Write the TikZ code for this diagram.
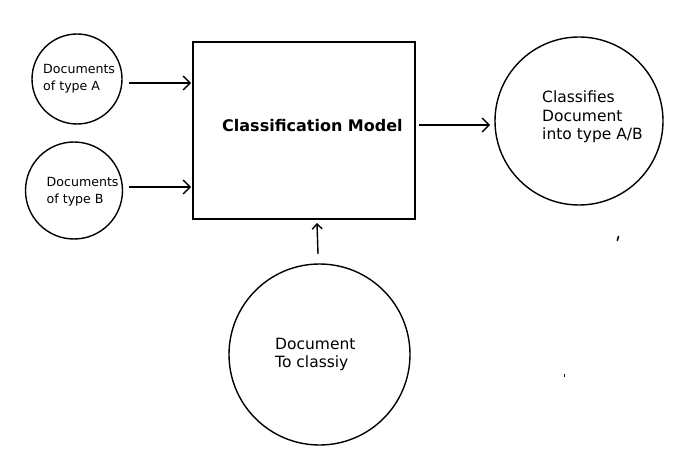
\documentclass[tikz,border=0pt]{standalone}
\usepackage{fontspec}
\setmainfont{DejaVu Sans}
\usetikzlibrary{arrows.meta}
\begin{document}
\begin{tikzpicture}[x=1pt,y=-1pt,
  shp/.style={draw=black,line width=1.4pt},
  conn/.style={line width=1.4pt,-{Straight Barb[length=7pt,width=14pt,line width=1.4pt]}},
  connsmall/.style={line width=1.4pt,-{Straight Barb[length=5pt,width=10pt,line width=1.4pt]}},
  smalltxt/.style={inner sep=0pt,anchor=west,align=left,font=\fontsize{12.6}{16.5}\selectfont},
  bigtxt/.style={inner sep=0pt,anchor=west,align=left,font=\fontsize{15.5}{18.5}\selectfont}]
\useasboundingbox (0,0) rectangle (682,457);
\fill[white] (0,0) rectangle (682,457);
% shapes
\node[shp,circle,minimum size=90pt,inner sep=0pt] (ca) at (77,79) {};
\node[shp,circle,minimum size=97pt,inner sep=0pt] (cb) at (74,190.5) {};
\node[shp,rectangle,minimum width=222pt,minimum height=177pt,inner sep=0pt] (box) at (304,130.5) {};
\node[shp,circle,minimum size=168pt,inner sep=0pt] (cr) at (579,121) {};
\node[shp,circle,minimum size=181pt,inner sep=0pt] (cd) at (319.5,354.5) {};
% texts
\node[smalltxt] (ta) at (43,78.5) {Documents\\of type A};
\node[smalltxt] (tb) at (46.5,191.5) {Documents\\of type B};
\node[inner sep=0pt,anchor=west,font=\fontsize{16}{19}\selectfont\bfseries] (tm) at (222,126) {Classification Model};
\node[bigtxt] (tr) at (542,117) {Classifies\\Document\\into type A/B};
\node[bigtxt] (td) at (275,354.5) {Document\\To classiy};
% connectors
\coordinate (a1) at (129,83);
\coordinate (a2) at (191,83);
\coordinate (b1) at (129,187);
\coordinate (b2) at (191,187);
\coordinate (r1) at (419,125);
\coordinate (r2) at (490,125);
\coordinate (d1) at (318,254);
\coordinate (d2) at (317,223);
\draw[conn] (a1) -- (a2);
\draw[conn] (b1) -- (b2);
\draw[conn] (r1) -- (r2);
\draw[connsmall] (d1) -- (d2);
% stray marks
\draw[line width=1.6pt,line cap=round] (618.5,236.5) -- (617.3,240.5);
\fill (563.5,374) rectangle (565.3,376.5);
\end{tikzpicture}
\end{document}
